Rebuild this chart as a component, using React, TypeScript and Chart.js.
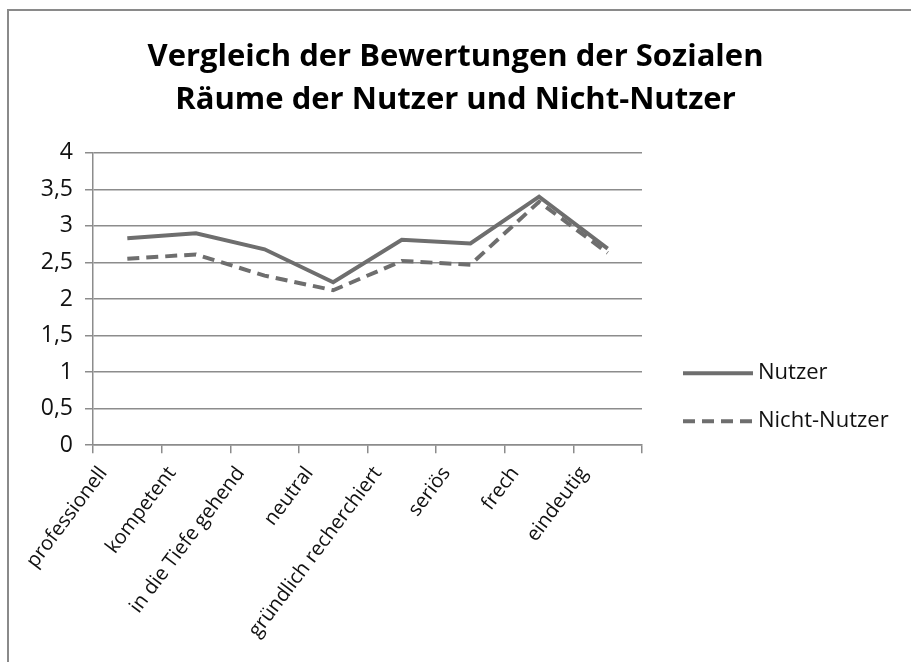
import React, { useEffect, useRef } from "react";
import { Chart, registerables } from "chart.js";

Chart.register(...registerables);

const categories = [
  "professionell",
  "kompetent",
  "in die Tiefe gehend",
  "neutral",
  "gründlich recherchiert",
  "seriös",
  "frech",
  "eindeutig",
];
const nutzer = [2.83, 2.9, 2.68, 2.23, 2.81, 2.76, 3.4, 2.69];
const nichtNutzer = [2.55, 2.61, 2.32, 2.12, 2.52, 2.47, 3.33, 2.63];
const yTickLabels = ["0", "0,5", "1", "1,5", "2", "2,5", "3", "3,5", "4"];
const titleLines = [
  "Vergleich der Bewertungen der Sozialen",
  "Räume der Nutzer und Nicht-Nutzer",
];

const FONT = "'Open Sans', Lato, sans-serif";
const LINE = "#6e6e6e";
const GRID = "#8c8c8c";

const sideLegend = {
  id: "sideLegend",
  afterDraw(chart: any, _args: any, opts: any) {
    const { ctx, chartArea } = chart;
    ctx.save();
    chart.data.datasets.forEach((ds: any, i: number) => {
      const x0 = chartArea.right + opts.gap;
      const y = chartArea.bottom - opts.fromBottom + i * opts.spacing;
      ctx.beginPath();
      ctx.strokeStyle = ds.borderColor;
      ctx.lineWidth = ds.borderWidth;
      ctx.setLineDash(ds.borderDash || []);
      ctx.lineCap = "butt";
      ctx.moveTo(x0, y);
      ctx.lineTo(x0 + opts.lineLength, y);
      ctx.stroke();
      ctx.setLineDash([]);
      ctx.fillStyle = opts.color;
      ctx.font = `${opts.fontSize}px ${FONT}`;
      ctx.textAlign = "left";
      ctx.textBaseline = "middle";
      ctx.fillText(ds.label, x0 + opts.lineLength + opts.textGap, y);
    });
    ctx.restore();
  },
};

export default function App() {
  const ref = useRef<HTMLCanvasElement>(null);
  useEffect(() => {
    if (!ref.current) return;
    const chart = new Chart(ref.current, {
      type: "line",
      data: {
        labels: categories,
        datasets: [
          {
            label: "Nutzer",
            data: nutzer,
            borderColor: LINE,
            backgroundColor: LINE,
            borderWidth: 4,
            pointRadius: 0,
            tension: 0,
          },
          {
            label: "Nicht-Nutzer",
            data: nichtNutzer,
            borderColor: LINE,
            backgroundColor: LINE,
            borderWidth: 4,
            borderDash: [12, 7],
            pointRadius: 0,
            tension: 0,
          },
        ],
      },
      plugins: [sideLegend],
      options: {
        animation: false,
        responsive: true,
        maintainAspectRatio: false,
        layout: { padding: { left: 0, right: 0, top: 0, bottom: 11 } },
        plugins: {
          legend: { display: false },
          tooltip: { enabled: false },
          title: {
            display: true,
            text: titleLines,
            color: "#000",
            font: { family: FONT, size: 31, weight: "bold", lineHeight: 1.4 },
            padding: { top: 35, bottom: 31 },
          },
          sideLegend: {
            gap: 41,
            fromBottom: 72,
            spacing: 48,
            lineLength: 70,
            textGap: 5,
            fontSize: 22,
            color: "#111",
          },
        } as any,
        scales: {
          x: {
            offset: true,
            grid: {
              offset: true,
              drawOnChartArea: false,
              drawTicks: true,
              tickLength: 8,
              color: GRID,
              lineWidth: 1.5,
            },
            border: { display: true, color: GRID, width: 1.5 },
            ticks: {
              color: "#111",
              font: { family: FONT, size: 20 },
              minRotation: 53,
              maxRotation: 53,
              autoSkip: false,
              labelOffset: -24,
              padding: 9,
            },
          },
          y: {
            min: 0,
            max: 4,
            afterFit: (s: any) => {
              s.width = 93;
            },
            grid: {
              color: GRID,
              lineWidth: 1.5,
              drawTicks: true,
              tickLength: 8,
            },
            border: { display: true, color: GRID, width: 1.5 },
            ticks: {
              stepSize: 0.5,
              color: "#111",
              font: { family: FONT, size: 23 },
              padding: 12,
              callback: (_v: any, i: number) => yTickLabels[i],
            },
          },
          legendSpace: {
            type: "linear",
            position: "right",
            display: true,
            afterFit: (s: any) => {
              s.width = 269;
            },
            grid: { display: false, drawTicks: false },
            border: { display: false },
            ticks: { display: false },
          },
        } as any,
      },
    });
    return () => chart.destroy();
  }, []);
  return (
    <div
      style={{
        position: "fixed",
        left: 0,
        top: 0,
        width: 911,
        height: 662,
        background: "#fff",
      }}
    >
      <canvas ref={ref} />
      <div
        style={{
          position: "absolute",
          left: 7,
          top: 9,
          right: 0,
          bottom: 0,
          borderLeft: "2px solid #8a8a8a",
          borderTop: "2px solid #8a8a8a",
          pointerEvents: "none",
        }}
      />
    </div>
  );
}
